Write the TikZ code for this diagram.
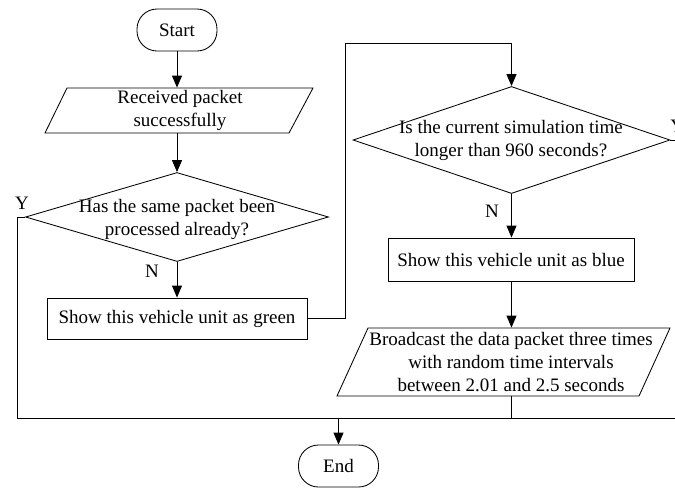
\documentclass[tikz,border=0pt]{standalone}
\usepackage{fontspec}
\setmainfont{Liberation Serif}
\newfontfamily\tnr{Liberation Serif}
\usetikzlibrary{arrows.meta,shapes.geometric,calc}
\begin{document}
\begin{tikzpicture}[x=1pt,y=-1pt,
  line width=0.85pt,
  font=\tnr\fontsize{19}{23}\selectfont,
  every node/.style={inner sep=0pt},
  term/.style={draw, rounded corners=20pt, minimum width=80pt, minimum height=42pt},
  proc/.style={draw, minimum height=42pt},
  dia/.style={draw, diamond, inner sep=0pt},
  txt/.style={align=center},
  arr/.style={-{Triangle[length=12pt,width=10pt]}}
]
\useasboundingbox (0,0) rectangle (675,488);

% nodes
\node[term] (start) at (177,30) {Start};
\node[txt, minimum width=246pt, minimum height=45pt] (p1) at (180,110.5) {Received packet\\successfully};
\draw (67,88) -- (313,88) -- (289,133) -- (45,133) -- cycle;

\node[dia, minimum width=303pt, minimum height=89pt] (d1) at (177,217) {};
\node[txt] (d1t) at (177,219) {Has the same packet been\\processed already?};

\node[proc, minimum width=260pt, minimum height=41pt] (g) at (177,318.5) {Show this vehicle unit as green};

\node[dia, minimum width=317pt, minimum height=107pt] (d2) at (511.5,140) {};
\node[txt] (d2t) at (511,140) {Is the current simulation time\\longer than 960 seconds?};

\node[proc, minimum width=246pt, minimum height=43pt] (b) at (511,259.5) {Show this vehicle unit as blue};

\node[txt, minimum height=68pt] (p2) at (511,362) {Broadcast the data packet three times\\with random time intervals\\between 2.01 and 2.5 seconds};
\draw (368,328) -- (670,328) -- (639,396) -- (337,396) -- cycle;

\node[term] (end) at (338.5,466) {End};

% labels
\node (y1) at (22,203) {Y};
\node (n1) at (152,271.5) {N};
\node (n2) at (492,211) {N};
\node[anchor=west] (y2) at (670,126) {Y};

% helper coordinates
\coordinate (turn) at (345,43);
\coordinate (top) at (511.5,43);
\coordinate (ycorner) at (17,418);
\coordinate (rend) at (675,418);
\coordinate (d2out) at (675,140);

% connectors
\draw[arr] (start.south) -- (start.south |- p1.north);
\draw[arr] (d1.north |- p1.south) -- (d1.north);
\draw[arr] (d1.south) -- (g.north);
\draw[arr] (g.east) -| (turn) -- (top) -- (d2.north);
\draw (d1.west) -| (ycorner) -- (rend);
\draw (d2.east) -- (d2out);
\draw[arr] (d2.south) -- (d2.south |- b.north);
\draw[arr] (d2.south |- b.south) -- (d2.south |- p2.north);
\draw (d2.south |- p2.south) -- (d2.south |- rend);
\draw[arr] (end.north |- rend) -- (end.north);
\end{tikzpicture}
\end{document}
